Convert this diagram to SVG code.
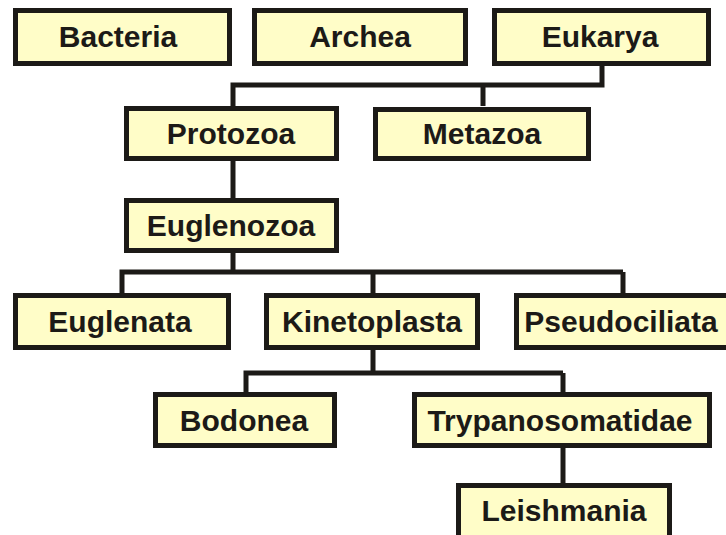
<svg xmlns="http://www.w3.org/2000/svg" width="726" height="535" viewBox="0 0 726 535">
<style>
.box{fill:#FFFDC8;stroke:#1c1a17;stroke-width:5}
.sh{fill:#d8d8d8}
.lbl{font-family:"Liberation Sans",Arial,sans-serif;font-weight:bold;font-size:30px;fill:#1c1a17;text-anchor:middle}
.con{fill:none;stroke:#1c1a17;stroke-width:5;stroke-linejoin:miter;stroke-linecap:butt}
</style>
<rect width="726" height="535" fill="#ffffff"/>
<g id="connectors">
<path class="con" d="M602 66V85H233V106M483 85V106"/>
<path class="con" d="M233 161V198"/>
<path class="con" d="M233 253V272H122V293M373 272V293M623 272H122M623 272V293"/>
<path class="con" d="M373 350V373H246V392M563 373V392M246 373H563"/>
<path class="con" d="M563 448V483"/>
</g>
<g id="bacteria"><rect class="box" x="15.5" y="10.5" width="214" height="53"/><text class="lbl" x="118" y="47">Bacteria</text></g>
<g id="archea"><rect class="box" x="254.5" y="10.5" width="211" height="53"/><text class="lbl" x="360" y="47">Archea</text></g>
<g id="eukarya"><rect class="box" x="494.5" y="10.5" width="214" height="53"/><text class="lbl" x="600" y="47">Eukarya</text></g>
<g id="protozoa"><rect class="box" x="126.5" y="108.5" width="210" height="50"/><text class="lbl" x="231" y="144">Protozoa</text></g>
<g id="metazoa"><rect class="box" x="375.5" y="109.5" width="213" height="49"/><text class="lbl" x="482" y="144">Metazoa</text></g>
<g id="euglenozoa"><rect class="box" x="126.5" y="200.5" width="210" height="50"/><text class="lbl" x="231" y="236">Euglenozoa</text></g>
<g id="euglenata"><rect class="box" x="15.5" y="295.5" width="213" height="52"/><text class="lbl" x="120" y="332">Euglenata</text></g>
<g id="kinetoplasta"><rect class="box" x="266.5" y="295.5" width="211" height="52"/><text class="lbl" x="372" y="332">Kinetoplasta</text></g>
<g id="pseudociliata"><rect class="box" x="516.5" y="295.5" width="214" height="52"/><text class="lbl" x="621" y="332">Pseudociliata</text></g>
<g id="bodonea"><rect class="box" x="155.5" y="394.5" width="179" height="51"/><text class="lbl" x="244" y="431">Bodonea</text></g>
<g id="trypanosomatidae"><rect class="box" x="414.5" y="394.5" width="295" height="51"/><text class="lbl" x="560" y="431">Trypanosomatidae</text></g>
<g id="leishmania"><rect class="box" x="458.5" y="485.5" width="211" height="56"/><text class="lbl" x="564" y="521">Leishmania</text></g>
</svg>
